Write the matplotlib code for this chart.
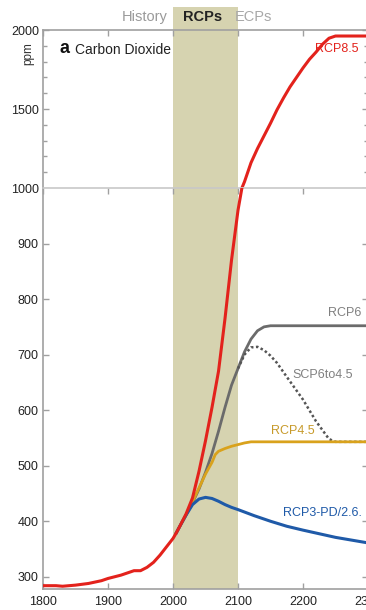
import matplotlib
matplotlib.use("Agg")
import matplotlib.pyplot as plt
from matplotlib.patches import Rectangle
from matplotlib.ticker import MultipleLocator

plt.rcParams["font.family"] = ["Liberation Sans", "DejaVu Sans"]

# historical CO2 concentration (ppm) and the extended scenarios
hist_year = [1800, 1820, 1830, 1850, 1870, 1890, 1900, 1910, 1920, 1930, 1940,
             1950, 1960, 1970, 1980, 1990, 2000, 2005]
hist_co2 = [284, 284, 283, 285, 288, 293, 297, 300, 303, 307, 311,
            311, 317, 326, 339, 354, 369, 379]

rcp85_year = [2010, 2020, 2030, 2040, 2050, 2060, 2070, 2080, 2090, 2100, 2106,
              2110, 2120, 2130, 2140, 2150, 2160, 2170, 2180, 2190, 2200,
              2210, 2220, 2230, 2240, 2250, 2300]
rcp85_co2 = [390, 413, 442, 490, 545, 605, 670, 765, 870, 960, 1000,
             1040, 1160, 1250, 1330, 1410, 1495, 1570, 1640, 1700, 1760,
             1815, 1860, 1910, 1948, 1962, 1962]

rcp6_year = [2005, 2010, 2020, 2030, 2040, 2050, 2060, 2070, 2080, 2090, 2100,
             2110, 2120, 2130, 2140, 2150, 2300]
rcp6_co2 = [379, 390, 411, 433, 458, 488, 522, 562, 605, 645, 675,
            705, 728, 743, 750, 752, 752]

scp_year = [2100, 2110, 2120, 2130, 2140, 2150, 2160, 2175, 2200, 2220, 2240,
            2250, 2300]
scp_co2 = [675, 700, 713, 714, 708, 698, 685, 660, 619, 580, 548,
           543, 543]

rcp45_year = [2005, 2010, 2020, 2030, 2040, 2050, 2060, 2065, 2070, 2080, 2090,
              2100, 2110, 2120, 2300]
rcp45_co2 = [379, 390, 411, 435, 460, 485, 506, 520, 526, 531, 535,
             538, 541, 543, 543]

rcp26_year = [2005, 2010, 2020, 2030, 2040, 2050, 2060, 2070, 2080, 2090, 2100,
              2125, 2150, 2175, 2200, 2250, 2300]
rcp26_co2 = [379, 390, 411, 430, 440, 443, 441, 436, 430, 425, 421,
             410, 400, 391, 384, 371, 361]

era_names = ["History", "RCPs", "ECPs"]
era_centers = [1957, 2046, 2123]
era_colors = ["#9a9a9a", "#222222", "#a8a8a8"]

RED, GREY, GOLD, BLUE = "#e3221c", "#6b6b6b", "#d9a21c", "#1f5aa8"
BAND = "#d6d3b0"
SPINE = "#a0a0a0"

fig = plt.figure(figsize=(3.66, 6.10), dpi=100)
ax_top = fig.add_axes([0.1175, 0.6918, 0.888, 0.259])
ax_bot = fig.add_axes([0.1175, 0.0344, 0.888, 0.6574])

full_year = hist_year + rcp85_year
full_co2 = hist_co2 + rcp85_co2

for ax in (ax_top, ax_bot):
    ax.axvspan(2000, 2100, color=BAND, lw=0, zorder=0)
    ax.plot(rcp6_year, rcp6_co2, color=GREY, lw=2.0, zorder=2)
    ax.plot(scp_year, scp_co2, color="#555555", lw=1.8, ls=(0, (1, 1)), zorder=2)
    ax.plot(rcp45_year, rcp45_co2, color=GOLD, lw=2.0, zorder=3)
    ax.plot(rcp26_year, rcp26_co2, color=BLUE, lw=2.2, zorder=3)
    ax.plot(full_year, full_co2, color=RED, lw=2.2, zorder=4,
            solid_capstyle="butt")
    ax.set_xlim(1800, 2300)
    ax.xaxis.set_major_locator(MultipleLocator(100))
    ax.tick_params(direction="in", length=4, width=1, color=SPINE,
                   labelsize=9, labelcolor="#222222", top=True, right=True,
                   pad=3)
    ax.tick_params(which="minor", direction="in", length=3, width=1,
                   color=SPINE, right=True)
    for sp in ax.spines.values():
        sp.set_color(SPINE)
        sp.set_linewidth(1.2)

# upper part: compressed scale 1000-2000
ax_top.set_ylim(1000, 2000)
ax_top.yaxis.set_major_locator(MultipleLocator(500))
ax_top.yaxis.set_minor_locator(MultipleLocator(100))
ax_top.tick_params(labelbottom=False, bottom=False)
ax_top.spines["bottom"].set_visible(False)

# lower part: 278-1000
ax_bot.set_ylim(278, 1000)
ax_bot.set_yticks([300, 400, 500, 600, 700, 800, 900])
ax_bot.spines["top"].set_color("#c8c8c8")
ax_bot.tick_params(axis="x", pad=5)

# shaded RCP period reaches up behind the header labels
ax_top.add_patch(Rectangle((2000, 1.0), 100, 0.146, transform=ax_top.get_xaxis_transform(),
                           color=BAND, lw=0, clip_on=False, zorder=0))
for name, xc, col in zip(era_names, era_centers, era_colors):
    ax_top.text(xc, 1.08, name, transform=ax_top.get_xaxis_transform(),
                ha="center", va="center", fontsize=10.5, color=col,
                fontweight="bold" if name == "RCPs" else "normal")

ax_top.text(1826, 1885, "a", fontsize=13, fontweight="bold", va="center",
            color="#111111")
ax_top.text(1849, 1875, "Carbon Dioxide", fontsize=10, va="center",
            color="#222222")
fig.text(0.077, 0.913, "ppm", rotation=90, fontsize=8.5, ha="center",
         va="center", color="#333333")

# scenario labels
ax_top.text(2286, 1880, "RCP8.5", color=RED, fontsize=9, ha="right", va="center")
ax_bot.text(2290, 775, "RCP6", color="#808080", fontsize=9, ha="right", va="center")
ax_bot.text(2276, 664, "SCP6to4.5", color="#808080", fontsize=9, ha="right",
            va="center")
ax_bot.text(2218, 562, "RCP4.5", color="#c79a2a", fontsize=9, ha="right",
            va="center")
ax_bot.text(2290, 415, "RCP3-PD/2.6.", color=BLUE, fontsize=9, ha="right",
            va="center")

fig.savefig("out.png", dpi=100)
